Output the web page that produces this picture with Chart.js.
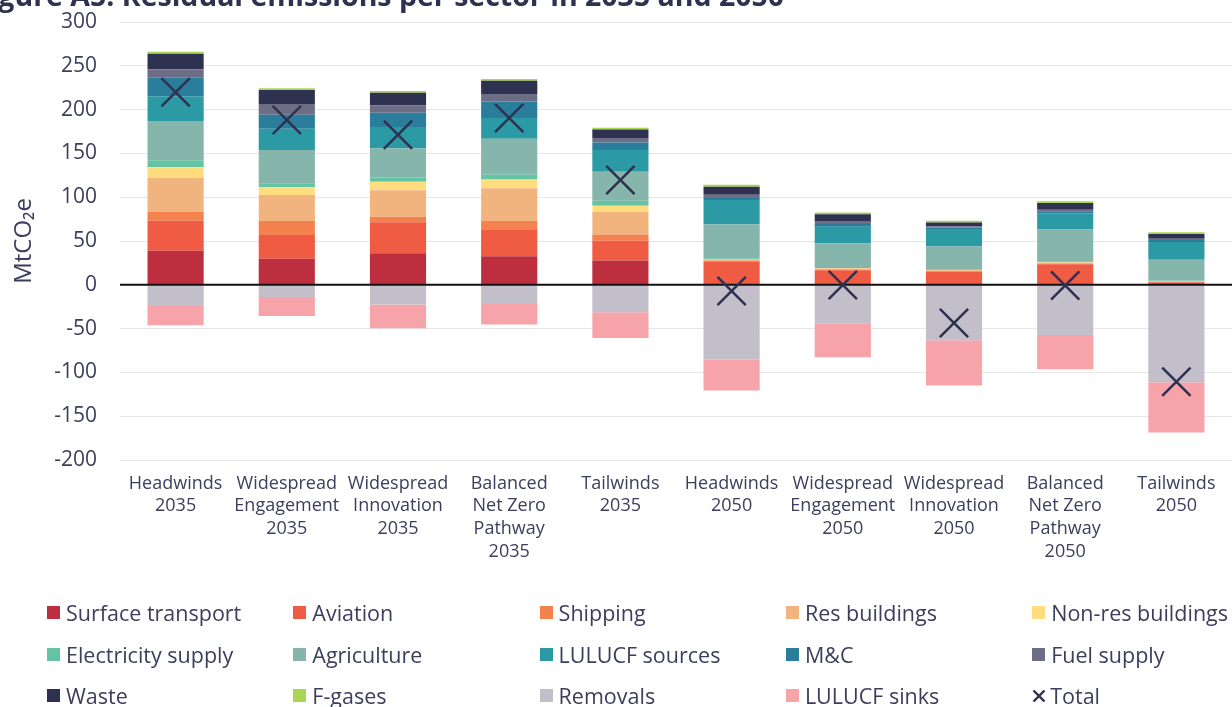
<!DOCTYPE html>
<html>
<head>
<meta charset="utf-8">
<script src="https://cdn.jsdelivr.net/npm/chart.js@4.4.1/dist/chart.umd.min.js"></script>
<style>
  html, body { margin: 0; padding: 0; background: #ffffff; overflow: hidden; }
  #wrap { position: relative; width: 1232px; height: 707px; }
  #title { position: absolute; left: -26px; top: -20px; white-space: nowrap;
           font-family: "Open Sans", sans-serif; font-weight: 700; font-size: 28.5px;
           color: #2e3150; line-height: 30px; }
  #legend { position: absolute; left: 0; top: 0; width: 1232px; height: 707px; pointer-events: none; }
  .li { position: absolute; display: flex; align-items: center; white-space: nowrap;
        font-family: "Open Sans", sans-serif; font-size: 21.5px; color: #3b3e5c; height: 26px; }
  .sw { width: 13px; height: 13px; margin-right: 6px; flex: none; }
</style>
</head>
<body>
<div id="wrap">
  <canvas id="c" width="1232" height="707"></canvas>
  <div id="title">Figure A5: Residual emissions per sector in 2035 and 2050</div>
  <div id="legend"></div>
</div>
<script>
// ---- Data ----
const categories = [
  ['Headwinds', '2035'],
  ['Widespread', 'Engagement', '2035'],
  ['Widespread', 'Innovation', '2035'],
  ['Balanced', 'Net Zero', 'Pathway', '2035'],
  ['Tailwinds', '2035'],
  ['Headwinds', '2050'],
  ['Widespread', 'Engagement', '2050'],
  ['Widespread', 'Innovation', '2050'],
  ['Balanced', 'Net Zero', 'Pathway', '2050'],
  ['Tailwinds', '2050']
];
const surfaceTransport = [39.0, 29.8, 35.9, 32.5, 27.6, 0, 0, 0, 0, 0];
const aviation         = [34.2, 27.0, 35.4, 30.1, 22.8, 26.5, 16.5, 15.0, 23.5, 3.0];
const shipping         = [10.3, 16.0, 6.5, 10.6, 6.9, 1.2, 1.0, 0.8, 0.8, 0.5];
const resBuildings     = [38.8, 29.7, 30.0, 36.9, 26.2, 0.8, 1.0, 0.7, 0.8, 0.4];
const nonResBuildings  = [11.8, 8.8, 9.9, 10.2, 6.8, 0.3, 0.8, 0.3, 0.5, 0.2];
const electricity      = [8.0, 4.6, 4.9, 5.7, 5.7, 1.5, 1.0, 1.0, 0.8, 0.7];
const agriculture      = [44.9, 38.0, 33.1, 40.8, 33.1, 38.4, 27.0, 25.8, 36.6, 23.9];
const lulucfSources    = [28.2, 24.3, 24.4, 23.6, 24.8, 28.0, 19.1, 20.2, 18.6, 20.3];
const mAndC            = [21.2, 16.0, 16.3, 18.9, 8.6, 2.5, 3.0, 1.5, 2.5, 2.0];
const fuelSupply       = [9.6, 12.2, 8.3, 8.4, 5.1, 3.5, 3.5, 1.2, 1.5, 1.5];
const waste            = [17.8, 16.0, 14.5, 15.2, 9.8, 9.3, 7.5, 4.5, 7.8, 5.6];
const fGases           = [2.3, 1.9, 2.0, 2.0, 1.9, 2.3, 2.0, 2.0, 1.9, 1.9];
const removals         = [-24.2, -13.9, -22.6, -21.8, -31.4, -85.7, -44.0, -63.3, -57.2, -111.3];
const lulucfSinks      = [-22.0, -21.7, -27.0, -23.6, -29.2, -35.0, -38.7, -51.7, -39.2, -57.3];
const totals           = [219.7, 188.1, 171.3, 190.4, 119.7, -7.0, -0.3, -43.5, -0.9, -110.6];
const yTicks = { min: -200, max: 300, step: 50 };

const sectors = [
  ['Surface transport', surfaceTransport, '#bd2f3f'],
  ['Aviation', aviation, '#f05b43'],
  ['Shipping', shipping, '#f4824f'],
  ['Res buildings', resBuildings, '#f2b47e'],
  ['Non-res buildings', nonResBuildings, '#ffdd7f'],
  ['Electricity supply', electricity, '#63c3a2'],
  ['Agriculture', agriculture, '#85b5ab'],
  ['LULUCF sources', lulucfSources, '#2c9aa4'],
  ['M&C', mAndC, '#2b7e9b'],
  ['Fuel supply', fuelSupply, '#6d6d85'],
  ['Waste', waste, '#2e3150'],
  ['F-gases', fGases, '#a9d454'],
  ['Removals', removals, '#c2bfca'],
  ['LULUCF sinks', lulucfSinks, '#f6a3aa']
];

const TEXT = '#3b3e5c';
const FONT = '"Open Sans", sans-serif';

const datasets = sectors.map(([label, data, color]) => ({
  type: 'bar', label, data, backgroundColor: color, borderWidth: 0,
  stack: 'sectors', order: 1,
  categoryPercentage: 1.0, barPercentage: 0.505
}));
datasets.push({
  type: 'line', label: 'Total', data: totals, stack: 'total', order: 0,
  showLine: false, pointStyle: 'crossRot', pointRadius: 20, pointHoverRadius: 20,
  pointBorderWidth: 2.5, borderColor: '#2e3150', backgroundColor: '#2e3150'
});

const zeroLine = {
  id: 'zeroLine',
  beforeDatasetDraw(chart, args) {
    if (args.meta.type !== 'line') return;
    const ctx = chart.ctx;
    const y = chart.scales.y.getPixelForValue(0);
    const { left, right } = chart.chartArea;
    ctx.save();
    ctx.strokeStyle = '#111111';
    ctx.lineWidth = 2;
    ctx.beginPath();
    ctx.moveTo(left, y);
    ctx.lineTo(right, y);
    ctx.stroke();
    ctx.restore();
  }
};

const chart = new Chart(document.getElementById('c'), {
  data: { labels: categories, datasets },
  plugins: [zeroLine],
  options: {
    responsive: false,
    animation: false,
    layout: { autoPadding: false, padding: { left: 0, right: 0, top: 22, bottom: 0 } },
    plugins: { legend: { display: false }, tooltip: { enabled: false }, title: { display: false } },
    scales: {
      x: {
        stacked: true,
        grid: { display: false, drawTicks: false },
        border: { display: false },
        ticks: { color: TEXT, font: { family: FONT, size: 18, lineHeight: 1.27 }, padding: 12, maxRotation: 0, autoSkip: false },
        afterFit(s) { s.height = 247; s.paddingLeft = 0; s.paddingRight = 0; }
      },
      y: {
        stacked: true,
        min: yTicks.min, max: yTicks.max,
        grid: {
          drawTicks: false,
          color: (c) => (c.tick && c.tick.value === 0) ? 'rgba(0,0,0,0)' : '#e6e6e6',
          lineWidth: 1
        },
        border: { display: false },
        ticks: { stepSize: yTicks.step, color: TEXT, font: { family: FONT, size: 21 }, padding: 23 },
        title: { display: true, text: 'MtCO₂e', color: TEXT, font: { family: FONT, size: 24 }, padding: { top: 10, bottom: 0 } },
        afterFit(s) { s.width = 120; s.paddingTop = 0; s.paddingBottom = 0; }
      }
    }
  }
});

// ---- HTML legend built from the chart's datasets ----
const legend = document.getElementById('legend');
chart.data.datasets.forEach((ds, i) => {
  const col = i % 5, row = Math.floor(i / 5);
  const item = document.createElement('div');
  item.className = 'li';
  item.style.left = (47 + col * 246.3) + 'px';
  item.style.top = (599.5 + row * 41.5) + 'px';
  let sw;
  if (ds.type === 'line') {
    sw = document.createElementNS('http://www.w3.org/2000/svg', 'svg');
    sw.setAttribute('width', '14'); sw.setAttribute('height', '14');
    sw.style.marginRight = '4px';
    sw.innerHTML = '<line x1="1.5" y1="1.5" x2="12.5" y2="12.5" stroke="#2e3150" stroke-width="2.4"/><line x1="12.5" y1="1.5" x2="1.5" y2="12.5" stroke="#2e3150" stroke-width="2.4"/>';
  } else {
    sw = document.createElement('span');
    sw.className = 'sw';
    sw.style.background = ds.backgroundColor;
  }
  item.appendChild(sw);
  const t = document.createElement('span');
  t.textContent = ds.label;
  item.appendChild(t);
  legend.appendChild(item);
});
</script>
</body>
</html>
